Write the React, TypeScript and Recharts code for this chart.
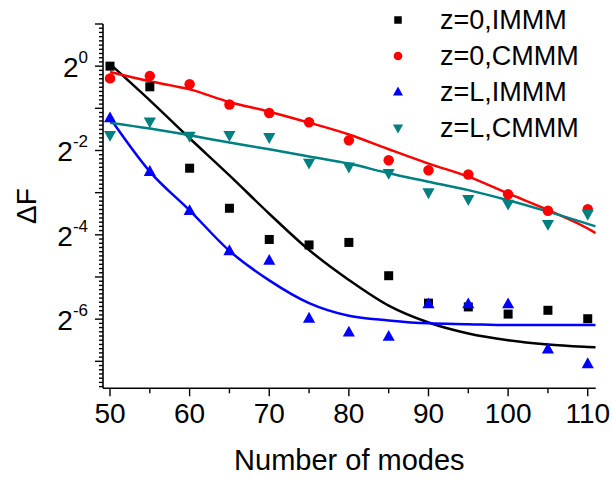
import { ComposedChart, Label, Legend, Line, XAxis, YAxis } from "recharts";

const FONT = "'Liberation Sans', Arial, sans-serif";

const MODES = [50, 55, 60, 65, 70, 75, 80, 85, 90, 95, 100, 105, 110];

// log2(ΔF) of the measured points
const Z0_IMMM = [0.0, -0.49, -2.42, -3.37, -4.11, -4.24, -4.18, -4.97, -5.62, -5.71, -5.88, -5.79, -5.99];
const Z0_CMMM = [-0.29, -0.23, -0.43, -0.91, -1.11, -1.33, -1.76, -2.23, -2.47, -2.57, -3.04, -3.43, -3.39];
const ZL_IMMM = [-1.23, -2.5, -3.43, -4.38, -4.61, -5.98, -6.31, -6.41, -5.64, -5.64, -5.64, -6.71, -7.06];
const ZL_CMMM = [-1.64, -1.32, -1.66, -1.64, -1.69, -2.3, -2.39, -2.54, -3.0, -3.16, -3.27, -3.75, -3.51];

// fitted curves, log2(ΔF)
const FIT_MODES = [50, 55, 60, 65, 70, 75, 80, 85, 90, 95, 100, 105, 110, 111];
const FIT_Z0_IMMM = [0.05, -0.81, -1.71, -2.59, -3.5, -4.36, -5.07, -5.68, -6.08, -6.34, -6.5, -6.6, -6.66, -6.67];
const FIT_Z0_CMMM = [-0.14, -0.36, -0.55, -0.85, -1.08, -1.34, -1.62, -1.97, -2.31, -2.62, -3.02, -3.41, -3.85, -3.96];
const FIT_ZL_IMMM = [-1.23, -2.5, -3.42, -4.38, -5.08, -5.62, -5.92, -6.03, -6.1, -6.12, -6.14, -6.14, -6.14, -6.14];
const FIT_ZL_CMMM = [-1.34, -1.48, -1.64, -1.81, -1.97, -2.14, -2.31, -2.54, -2.74, -2.94, -3.18, -3.45, -3.74, -3.8];

const X_TICKS = [50, 55, 60, 65, 70, 75, 80, 85, 90, 95, 100, 105, 110];
const X_LABELS = [50, 60, 70, 80, 90, 100, 110];
const Y_LABEL_EXP = [0, -2, -4, -6];

const Y_MIN_EXP = -7.64;
const Y_MAX_EXP = 1;

// minor ticks every 0.1 in log2
const Y_TICKS: number[] = [];
for (let k = -76; k <= 10; k++) Y_TICKS.push(2 ** (k / 10));

const SERIES = [
    { key: "z0i", fit: "f0i", name: "z=0,IMMM", color: "#000000", shape: "square", pts: Z0_IMMM, fitPts: FIT_Z0_IMMM },
    { key: "z0c", fit: "f0c", name: "z=0,CMMM", color: "#ff0000", shape: "circle", pts: Z0_CMMM, fitPts: FIT_Z0_CMMM },
    { key: "zli", fit: "fli", name: "z=L,IMMM", color: "#0000ff", shape: "up", pts: ZL_IMMM, fitPts: FIT_ZL_IMMM },
    { key: "zlc", fit: "flc", name: "z=L,CMMM", color: "#008080", shape: "down", pts: ZL_CMMM, fitPts: FIT_ZL_CMMM },
];

const data = FIT_MODES.map((x, i) => {
    const row: Record<string, number | undefined> = { x };
    const j = MODES.indexOf(x);
    SERIES.forEach((s) => {
        row[s.key] = j >= 0 ? 2 ** s.pts[j] : undefined;
        row[s.fit] = 2 ** s.fitPts[i];
    });
    return row;
});

function Marker({ shape, cx, cy, color, size }: any) {
    if (cx == null || cy == null || isNaN(cy)) return null;
    if (shape === "square") {
        return <rect x={cx - size / 2} y={cy - size / 2} width={size} height={size} fill={color} />;
    }
    if (shape === "circle") {
        return <circle cx={cx} cy={cy} r={size * 0.58} fill={color} />;
    }
    const w = size * 1.35;
    const h = size * 1.2;
    if (shape === "up") {
        return <path d={`M${cx},${cy - h * 0.6}L${cx + w / 2},${cy + h * 0.4}L${cx - w / 2},${cy + h * 0.4}Z`} fill={color} />;
    }
    return <path d={`M${cx},${cy + h * 0.6}L${cx + w / 2},${cy - h * 0.4}L${cx - w / 2},${cy - h * 0.4}Z`} fill={color} />;
}

function YTick({ x, y, payload }: any) {
    const e = Math.round(Math.log2(payload.value) * 10) / 10;
    const major = Number.isInteger(e);
    const labelled = Y_LABEL_EXP.includes(e);
    return (
        <g>
            <line x1={x - (major ? 8 : 4)} x2={x} y1={y} y2={y} stroke="#000" strokeWidth={1.4} />
            {labelled && (
                <text x={x - 15} y={y + 11} textAnchor="end" fontFamily={FONT} fontSize={28} fill="#000">
                    2<tspan dy={-14} fontSize={17}>{e}</tspan>
                </text>
            )}
        </g>
    );
}

function XTick({ x, y, payload }: any) {
    const v = payload.value;
    const major = X_LABELS.includes(v);
    return (
        <g>
            <line x1={x} x2={x} y1={y} y2={y + (major ? 8 : 5)} stroke="#000" strokeWidth={1.4} />
            {major && (
                <text x={x} y={y + 35} textAnchor="middle" fontFamily={FONT} fontSize={28} fill="#000">
                    {v}
                </text>
            )}
        </g>
    );
}

function LegendBox() {
    return (
        <div style={{ fontFamily: FONT, fontSize: 27, color: "#000" }}>
            {SERIES.map((s) => (
                <div key={s.key} style={{ display: "flex", alignItems: "center", height: 36, lineHeight: "36px" }}>
                    <svg width={20} height={36} style={{ display: "block" }}>
                        <Marker shape={s.shape} cx={10} cy={18} color={s.color} size={7.5} />
                    </svg>
                    <span style={{ marginLeft: 32, whiteSpace: "nowrap" }}>{s.name}</span>
                </div>
            ))}
        </div>
    );
}

export default function App() {
    return (
        <div style={{ position: "absolute", left: 0, top: 0, background: "#fff" }}>
            <ComposedChart width={612} height={479} data={data} margin={{ top: 24, right: 16.3, bottom: 0, left: 0 }}>
                <XAxis
                    type="number"
                    dataKey="x"
                    domain={[49.12, 111]}
                    allowDataOverflow
                    ticks={X_TICKS}
                    interval={0}
                    tickSize={0}
                    tickMargin={0}
                    tick={<XTick />}
                    height={90.7}
                    axisLine={{ stroke: "#000", strokeWidth: 1.6 }}
                >
                    <Label
                        content={({ viewBox }: any) => (
                            <text
                                x={viewBox.x + viewBox.width / 2}
                                y={viewBox.y + 82}
                                textAnchor="middle"
                                fontFamily={FONT}
                                fontSize={29}
                                fill="#000"
                            >
                                Number of modes
                            </text>
                        )}
                    />
                </XAxis>
                <YAxis
                    scale="log"
                    domain={[2 ** Y_MIN_EXP, 2 ** Y_MAX_EXP]}
                    allowDataOverflow
                    ticks={Y_TICKS}
                    interval={0}
                    tickSize={0}
                    tickMargin={0}
                    tick={<YTick />}
                    width={103}
                    axisLine={{ stroke: "#000", strokeWidth: 1.6 }}
                >
                    <Label
                        content={({ viewBox }: any) => {
                            const cy = viewBox.y + viewBox.height / 2;
                            return (
                                <text
                                    x={36}
                                    y={cy}
                                    transform={`rotate(-90 36 ${cy})`}
                                    textAnchor="middle"
                                    fontFamily={FONT}
                                    fontSize={28}
                                    fill="#000"
                                >
                                    ΔF
                                </text>
                            );
                        }}
                    />
                </YAxis>
                <Legend
                    layout="vertical"
                    align="center"
                    verticalAlign="middle"
                    content={<LegendBox />}
                    wrapperStyle={{ left: 388, top: 2, width: 220, height: 144 }}
                />
                {SERIES.map((s) => (
                    <Line
                        key={s.fit}
                        dataKey={s.fit}
                        type="monotone"
                        stroke={s.color}
                        strokeWidth={2.5}
                        dot={false}
                        activeDot={false}
                        legendType="none"
                        isAnimationActive={false}
                    />
                ))}
                {SERIES.map((s) => (
                    <Line
                        key={s.key}
                        dataKey={s.key}
                        name={s.name}
                        stroke="none"
                        activeDot={false}
                        dot={(p: any) => (
                            <Marker key={`${s.key}-${p.index}`} shape={s.shape} cx={p.cx} cy={p.cy} color={s.color} size={9} />
                        )}
                        isAnimationActive={false}
                    />
                ))}
            </ComposedChart>
        </div>
    );
}
